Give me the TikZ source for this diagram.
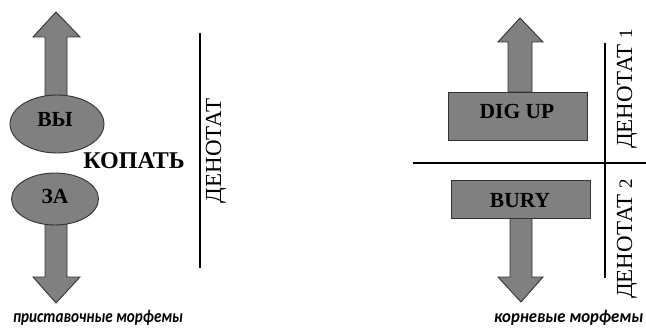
\documentclass[tikz,border=0pt]{standalone}
\usepackage{fontspec}
\setmainfont{Liberation Serif}
\newfontfamily\capfont{Carlito}[BoldItalicFont={* Bold Italic}]
\usetikzlibrary{shapes.geometric}
\definecolor{gfill}{HTML}{808080}
\definecolor{gline}{HTML}{333333}
\begin{document}
\begin{tikzpicture}[x=1pt,y=-1pt,
  shapefill/.style={fill=gfill,draw=gline,line width=0.9pt},
  boldtext/.style={inner sep=0pt,anchor=base,font=\fontsize{21.5}{21.5}\selectfont\bfseries},
  ovalnode/.style={shapefill,ellipse,inner sep=0pt},
  boxnode/.style={shapefill,rectangle,inner sep=0pt,minimum width=139},
  bar/.style={line width=2.8pt,black},
  dentext/.style={rotate=90,inner sep=0pt,font=\fontsize{23}{23}\selectfont},
  captext/.style={inner sep=0pt,anchor=base west,font=\capfont\fontsize{18}{18}\selectfont\bfseries\itshape}]
\useasboundingbox (0,0) rectangle (646,329);
% left arrows
\draw[shapefill] (45,110) -- (45,37) -- (33,37) -- (56,12) -- (80,37) -- (67,37) -- (67,110) -- cycle;
\draw[shapefill] (45,215) -- (45,277) -- (33,277) -- (56,303) -- (80,277) -- (67,277) -- (67,215) -- cycle;
% ovals
\node[ovalnode,minimum width=94,minimum height=58] (vy) at (57,124) {};
\node[ovalnode,minimum width=87,minimum height=52] (za) at (55,199) {};
\node[boldtext] (vyt) at (55,127) {ВЫ};
\node[boldtext] (zat) at (55,203) {ЗА};
\node[boldtext,font=\fontsize{24}{24}\selectfont\bfseries] (kopat) at (134,168) {КОПАТЬ};
% left bar
\coordinate (lt) at (200,33);
\coordinate (lb) at (200,268);
\draw[bar] (lt) -- (lb);
\node[dentext] (den) at (216,151) {ДЕНОТАТ};
\node[captext,xscale=0.84] (cap1) at (13,322) {приставочные морфемы};
% right arrows
\draw[shapefill] (508,92) -- (508,42) -- (498,42) -- (520,18) -- (543,42) -- (532,42) -- (532,92) -- cycle;
\draw[shapefill] (510,218) -- (510,277) -- (498,277) -- (521,302) -- (543,277) -- (532,277) -- (532,218) -- cycle;
% boxes
\node[boxnode,minimum height=48] (dig) at (517.5,116) {};
\node[boxnode,minimum height=38] (bury) at (520.5,199) {};
\node[boldtext] (digt) at (517,118) {DIG UP};
\node[boldtext] (buryt) at (520,207) {BURY};
% cross lines
\coordinate (rt) at (605,43);
\coordinate (rb) at (605,278);
\coordinate (hl) at (413,163);
\coordinate (hr) at (646,163);
\draw[bar] (rt) -- (rb);
\draw[bar] (hl) -- (hr);
\node[dentext] (den1) at (627,89) {ДЕНОТАТ {\fontsize{19}{19}\selectfont 1}};
\node[dentext] (den2) at (627,239) {ДЕНОТАТ {\fontsize{19}{19}\selectfont 2}};
\node[captext,xscale=0.93] (cap2) at (494,322) {корневые морфемы};
\end{tikzpicture}
\end{document}
